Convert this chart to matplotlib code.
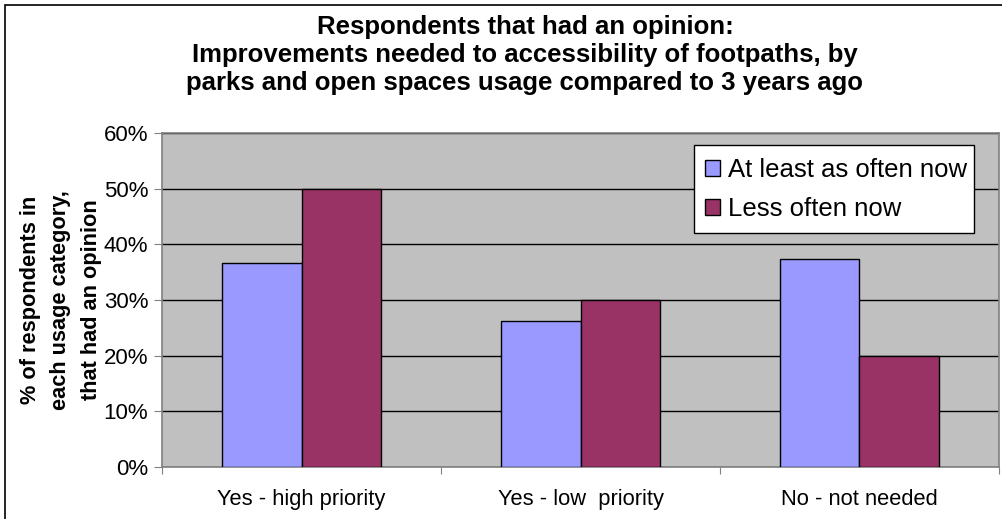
import numpy as np
import matplotlib.pyplot as plt
from matplotlib.patches import Rectangle

categories = ["Yes - high priority", "Yes - low  priority", "No - not needed"]
at_least = [36.7, 26.2, 37.4]
less_often = [50.0, 30.0, 20.0]
series_names = ["At least as often now", "Less often now"]

plt.rcParams['font.family'] = ['Liberation Sans', 'DejaVu Sans']

fig = plt.figure(figsize=(10.03, 5.19), dpi=100)
ax = fig.add_axes([162/1003, 52/519, 837/1003, 334/519])
ax.set_facecolor('#C0C0C0')

x = np.arange(len(categories))
w = 0.2867
ax.bar(x - w/2, at_least, w, color='#9999FF', edgecolor='black', linewidth=1, label=series_names[0], zorder=3)
ax.bar(x + w/2, less_often, w, color='#993366', edgecolor='black', linewidth=1, label=series_names[1], zorder=3)

ax.set_xlim(-0.5, 2.5)
ax.set_ylim(0, 60)
ax.set_yticks(range(0, 61, 10))
ax.set_yticklabels([f"{v}%" for v in range(0, 61, 10)], fontsize=16)
ax.yaxis.grid(True, color='black', linewidth=1, zorder=0)
ax.set_axisbelow(True)

ax.set_xticks([-0.5, 0.5, 1.5, 2.5])
ax.set_xticklabels([])
ax.set_xticks(x, minor=True)
ax.set_xticklabels(categories, minor=True, fontsize=15.75)
ax.tick_params(axis='x', which='minor', length=0, pad=16)
ax.tick_params(axis='x', which='major', length=5, color='#808080')
ax.tick_params(axis='y', length=6, color='#808080', pad=4)

for s in ax.spines.values():
    s.set_color('#808080')
    s.set_linewidth(1.2)

ax.set_ylabel("% of respondents in\neach usage category,\nthat had an opinion",
              fontsize=15.7, fontweight='bold', linespacing=1.6, labelpad=1)

fig.text(525/1003, 1 - 55/519, "Respondents that had an opinion:\nImprovements needed to accessibility of footpaths, by\nparks and open spaces usage compared to 3 years ago",
         ha='center', va='center', fontsize=18.5, fontweight='bold', linespacing=1.22)

# legend box (Excel style: tight on the right)
ax.add_patch(Rectangle((532/837, 234/334), 280/837, 88/334, transform=ax.transAxes,
                       facecolor='white', edgecolor='black', linewidth=1, zorder=4.5))
leg = ax.legend(loc='upper left', bbox_to_anchor=(543/837, 309/334), borderaxespad=0,
                fontsize=18.5, frameon=False,
                handlelength=0.6, handleheight=0.6, handletextpad=0.3,
                borderpad=0, labelspacing=0.58)
leg.set_zorder(5)

fig.patches.append(Rectangle((5/1003, -0.1), 1.2, 1.1 - 5/519, transform=fig.transFigure,
                             fill=False, edgecolor='black', linewidth=1.2, clip_on=False))

fig.savefig("out.png", dpi=100)
